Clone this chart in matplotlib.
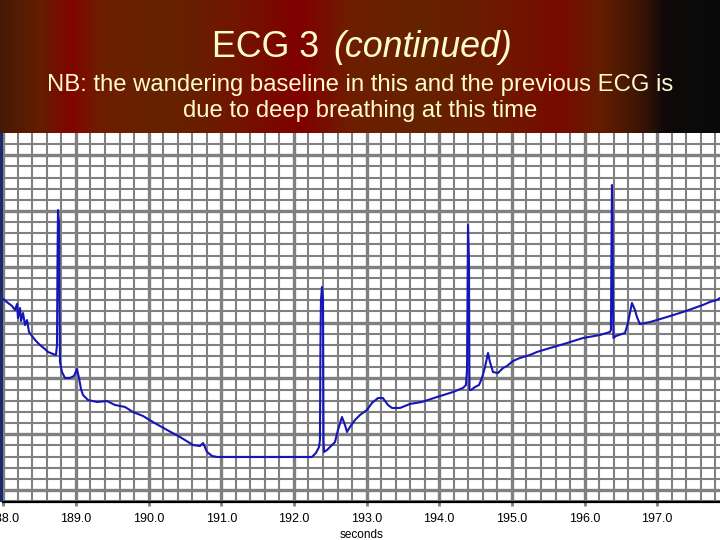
import matplotlib
matplotlib.use('Agg')
import matplotlib.pyplot as plt
import numpy as np
from matplotlib.patches import Rectangle
from matplotlib.ticker import MultipleLocator, FixedLocator, FixedFormatter
from matplotlib import font_manager

# ---------------- data ----------------
time_s = [188.000, 188.065, 188.120, 188.161, 188.189, 188.202, 188.230, 188.244,
          188.271, 188.299, 188.326, 188.354, 188.395, 188.450, 188.505, 188.574,
          188.615, 188.684, 188.725, 188.739, 188.746, 188.753, 188.767, 188.773,
          188.780, 188.808, 188.849, 188.918, 188.973, 189.014, 189.042, 189.069,
          189.097, 189.166, 189.290, 189.427, 189.537, 189.675, 189.785, 189.923,
          190.060, 190.253, 190.432, 190.611, 190.707, 190.749, 190.804, 190.873,
          190.941, 192.248, 192.303, 192.345, 192.358, 192.365, 192.372, 192.386,
          192.400, 192.407, 192.414, 192.455, 192.496, 192.565, 192.606, 192.661,
          192.703, 192.730, 192.771, 192.840, 192.909, 193.005, 193.074, 193.157,
          193.225, 193.294, 193.350, 193.460, 193.597, 193.762, 193.969, 194.189,
          194.326, 194.367, 194.382, 194.389, 194.396, 194.409, 194.416, 194.437,
          194.492, 194.547, 194.588, 194.630, 194.671, 194.698, 194.740, 194.808,
          194.877, 194.932, 195.015, 195.111, 195.249, 195.345, 195.524, 195.758,
          195.978, 196.212, 196.349, 196.363, 196.370, 196.377, 196.384, 196.391,
          196.398, 196.432, 196.556, 196.597, 196.652, 196.694, 196.721, 196.762,
          196.900, 197.134, 197.354, 197.629, 197.725, 197.822, 197.864]
ecg_mv = [1.711, 1.676, 1.649, 1.613, 1.667, 1.541, 1.631, 1.514,
          1.586, 1.478, 1.523, 1.416, 1.380, 1.335, 1.299, 1.263,
          1.237, 1.219, 1.210, 1.299, 2.061, 2.509, 2.401, 1.703,
          1.147, 1.057, 1.004, 1.004, 1.022, 1.084, 1.004, 0.905,
          0.851, 0.806, 0.789, 0.797, 0.762, 0.744, 0.699, 0.663,
          0.609, 0.538, 0.475, 0.403, 0.394, 0.421, 0.341, 0.305,
          0.296, 0.296, 0.332, 0.385, 0.448, 1.299, 1.703, 1.819,
          1.703, 0.448, 0.341, 0.358, 0.385, 0.430, 0.538, 0.654,
          0.582, 0.520, 0.565, 0.627, 0.672, 0.717, 0.780, 0.824,
          0.824, 0.762, 0.735, 0.735, 0.771, 0.789, 0.833, 0.878,
          0.914, 0.941, 1.075, 1.703, 2.375, 2.061, 0.896, 0.896,
          0.923, 0.941, 1.004, 1.102, 1.228, 1.147, 1.057, 1.048,
          1.093, 1.111, 1.156, 1.183, 1.210, 1.237, 1.272, 1.317,
          1.362, 1.389, 1.416, 1.434, 2.151, 2.733, 2.464, 1.703,
          1.362, 1.380, 1.407, 1.496, 1.676, 1.613, 1.550, 1.487,
          1.505, 1.550, 1.595, 1.658, 1.685, 1.703, 1.720]

x_ticks = [188.0, 189.0, 190.0, 191.0, 192.0, 193.0, 194.0, 195.0, 196.0, 197.0]
x_tick_labels = ['188.0', '189.0', '190.0', '191.0', '192.0',
                 '193.0', '194.0', '195.0', '196.0', '197.0']
x_label = 'seconds'
title_main = 'ECG 3'
title_italic = '(continued)'
subtitle_lines = ['NB: the wandering baseline in this and the previous ECG is',
                  'due to deep breathing at this time']

# ---------------- styling ----------------
W, H = 720, 540
available = {f.name for f in font_manager.fontManager.ttflist}
head_font = ['Liberation Sans Narrow', 'Liberation Sans', 'DejaVu Sans']
head_font = [f for f in head_font if f in available] or ['DejaVu Sans']
tick_font = ['Liberation Sans', 'DejaVu Sans']
tick_font = [f for f in tick_font if f in available] or ['DejaVu Sans']

fig = plt.figure(figsize=(7.2, 5.4), dpi=100)
fig.patch.set_facecolor('white')

# header gradient band
hdr = fig.add_axes([0, 1 - 133 / H, 1, 133 / H])
stops_x = [0, 40, 70, 100, 170, 240, 300, 350, 420, 500, 560, 600, 640, 665, 720]
stops_c = [(70, 25, 5), (100, 30, 0), (128, 5, 0), (110, 30, 0), (100, 35, 0),
           (115, 20, 0), (128, 0, 0), (110, 30, 0), (100, 35, 0), (110, 25, 0),
           (120, 10, 0), (100, 30, 0), (60, 20, 5), (15, 10, 10), (10, 10, 10)]
xs = np.arange(W)
grad = np.stack([np.interp(xs, stops_x, [c[i] for c in stops_c]) for i in range(3)],
                axis=-1) / 255.0
hdr.imshow(grad[None, :, :], aspect='auto', extent=[0, W, 0, 1], interpolation='bilinear')
hdr.axis('off')

txt_col = '#fffbd0'
renderer = fig.canvas.get_renderer()

# title: regular part + italic part, fitted to span x = 212 .. 512 px
base_title = 1 - 57 / H
t1 = fig.text(0, base_title, title_main, ha='left', va='baseline', fontsize=29,
              color=txt_col, family=head_font)
t2 = fig.text(0, base_title, title_italic, ha='left', va='baseline', fontsize=29,
              color=txt_col, family=head_font, style='italic')
gap_px = 14
w1 = t1.get_window_extent(renderer).width
w2 = t2.get_window_extent(renderer).width
scale = (300 - gap_px) / (w1 + w2)
fs = 29 * scale
t1.set_fontsize(fs)
t2.set_fontsize(fs)
w1 = t1.get_window_extent(renderer).width
t1.set_x(212 / W)
t2.set_x((212 + w1 + gap_px) / W)

# subtitle lines, fitted to reference widths
s1 = fig.text(360 / W, 1 - 91 / H, subtitle_lines[0], ha='center', va='baseline',
              fontsize=17.5, color=txt_col, family=head_font)
ws = s1.get_window_extent(renderer).width
sub_fs = 17.5 * 624 / ws
s1.set_fontsize(sub_fs)
fig.text(360 / W, 1 - 117 / H, subtitle_lines[1], ha='center', va='baseline',
         fontsize=sub_fs, color=txt_col, family=head_font)

# chart
ax = fig.add_axes([3.3 / W, 38 / H, (W - 3.3) / W, 369 / H])
ax.set_facecolor('white')
ax.set_xlim(188.0, 197.864)
ax.set_ylim(-0.1075, 3.199)
ax.xaxis.set_major_locator(FixedLocator(x_ticks))
ax.xaxis.set_major_formatter(FixedFormatter(x_tick_labels))
ax.xaxis.set_minor_locator(MultipleLocator(0.2))
ax.yaxis.set_major_locator(MultipleLocator(0.5))
ax.yaxis.set_minor_locator(MultipleLocator(0.1))
ax.grid(which='minor', color='#808080', lw=1.5)
ax.grid(which='major', color='#808080', lw=2.4)
ax.set_axisbelow(True)

ax.plot(time_s, ecg_mv, color='#1616b8', lw=1.5)

for s in ('top', 'right', 'left'):
    ax.spines[s].set_visible(False)
ax.spines['bottom'].set_color('black')
ax.spines['bottom'].set_linewidth(1.6)
ax.tick_params(axis='y', which='both', left=False, labelleft=False)
ax.tick_params(axis='x', which='major', length=3, width=2, color='#808080',
               pad=5, labelsize=9)
ax.tick_params(axis='x', which='minor', length=0)
for lab in ax.get_xticklabels():
    lab.set_family(tick_font)
ax.set_xlabel(x_label, fontsize=8.5, family=tick_font, labelpad=3)

fig.add_artist(Rectangle((0, 38 / H), 3 / W, 369 / H, transform=fig.transFigure,
                         color='#1b2a6b', lw=0))

fig.savefig('out.png', dpi=100)
